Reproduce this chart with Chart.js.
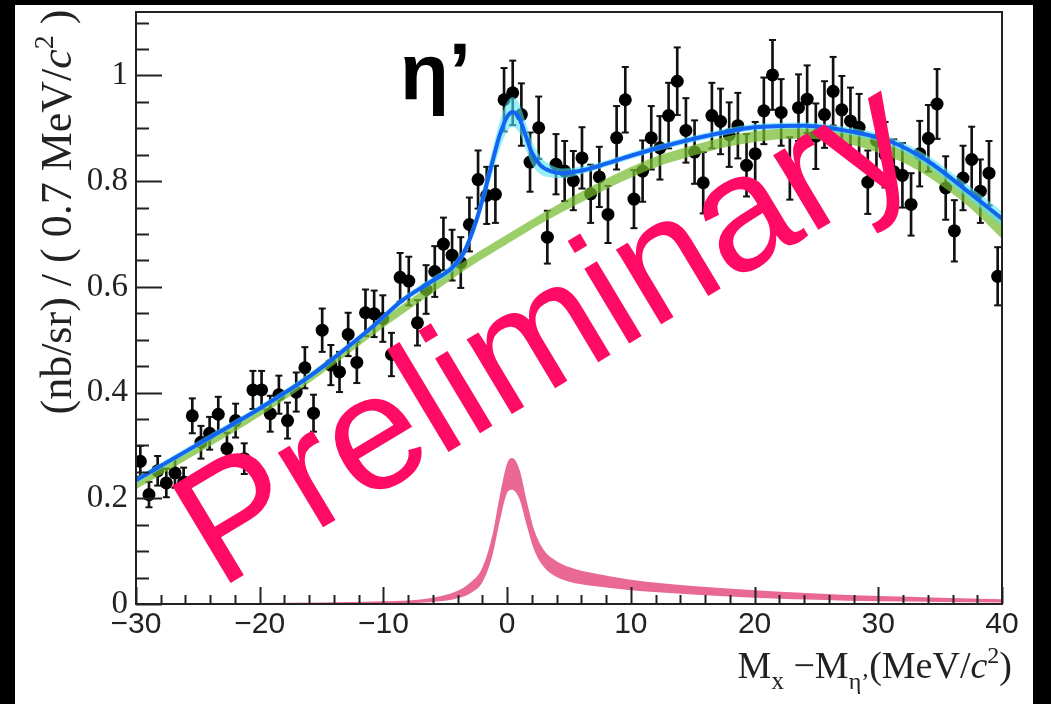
<!DOCTYPE html>
<html>
<head>
<meta charset="utf-8">
<script src="https://cdn.jsdelivr.net/npm/chart.js@4.4.1/dist/chart.umd.min.js"></script>
<style>
  html, body { margin: 0; padding: 0; background: #000; }
  #wrap { width: 1051px; height: 704px; }
</style>
</head>
<body>
<div id="wrap"><canvas id="grafico" width="1051" height="704"></canvas></div>
<script>
// bins de 0.7 MeV entre -30 y 40
const binStart = -30;
const binWidth = 0.7;

// datos (nb/sr por bin) y sus errores
const yields = [
  0.270, 0.207, 0.252, 0.229, 0.248, 0.231, 0.356, 0.306, 0.323, 0.359,
  0.294, 0.347, 0.275, 0.405, 0.405, 0.360, 0.396, 0.347, 0.401, 0.447,
  0.361, 0.518, 0.452, 0.439, 0.510, 0.457, 0.551, 0.549, 0.540, 0.472,
  0.618, 0.611, 0.532, 0.595, 0.629, 0.681, 0.660, 0.646, 0.718, 0.803,
  0.773, 0.775, 0.954, 0.967, 0.926, 0.836, 0.901, 0.694, 0.832, 0.819,
  0.801, 0.844, 0.776, 0.808, 0.737, 0.882, 0.954, 0.766, 0.819, 0.882,
  0.863, 0.924, 0.989, 0.896, 0.855, 0.797, 0.924, 0.913, 0.888, 0.905,
  0.830, 0.852, 0.933, 1.001, 0.930, 0.824, 0.939, 0.955, 0.885, 0.926,
  0.970, 0.935, 0.914, 0.902, 0.798, 0.877, 0.850, 0.818, 0.811, 0.756,
  0.852, 0.881, 0.946, 0.787, 0.706, 0.806, 0.841, 0.781, 0.815, 0.620
];
const errs = [
  0.029, 0.024, 0.028, 0.027, 0.028, 0.027, 0.033, 0.031, 0.031, 0.033,
  0.030, 0.032, 0.029, 0.036, 0.036, 0.034, 0.036, 0.034, 0.037, 0.039,
  0.035, 0.041, 0.038, 0.038, 0.041, 0.039, 0.044, 0.044, 0.044, 0.041,
  0.046, 0.046, 0.043, 0.046, 0.048, 0.050, 0.048, 0.048, 0.051, 0.055,
  0.054, 0.054, 0.060, 0.061, 0.059, 0.056, 0.059, 0.050, 0.057, 0.057,
  0.056, 0.058, 0.055, 0.057, 0.054, 0.060, 0.062, 0.055, 0.058, 0.060,
  0.060, 0.062, 0.064, 0.061, 0.060, 0.058, 0.062, 0.062, 0.061, 0.062,
  0.059, 0.060, 0.063, 0.066, 0.063, 0.059, 0.063, 0.064, 0.062, 0.063,
  0.065, 0.064, 0.063, 0.063, 0.060, 0.063, 0.062, 0.061, 0.061, 0.059,
  0.062, 0.063, 0.066, 0.060, 0.058, 0.061, 0.062, 0.060, 0.061, 0.055
];

// ajuste total (linea azul) y su banda
const totalX = [-30, -25, -20, -16, -13, -11, -8.5, -6, -4.5, -3.5, -2.5, -1.8, -1.2, -0.6, 0, 0.45, 1, 1.5, 2, 2.7, 3.5, 4.5, 6, 8, 10, 13, 16, 20, 24, 28, 31, 34, 37, 40];
const totalY = [0.234, 0.302, 0.370, 0.430, 0.484, 0.522, 0.574, 0.612, 0.635, 0.665, 0.725, 0.782, 0.836, 0.887, 0.922, 0.931, 0.918, 0.886, 0.854, 0.830, 0.819, 0.815, 0.820, 0.833, 0.848, 0.868, 0.885, 0.902, 0.905, 0.893, 0.875, 0.838, 0.785, 0.729];
const totalBand = [0.006, 0.006, 0.006, 0.006, 0.006, 0.006, 0.006, 0.007, 0.008, 0.010, 0.014, 0.018, 0.022, 0.026, 0.028, 0.028, 0.027, 0.025, 0.022, 0.017, 0.012, 0.009, 0.007, 0.006, 0.006, 0.006, 0.006, 0.006, 0.006, 0.007, 0.008, 0.010, 0.012, 0.014];

// fondo (banda verde)
const bkgX = [-30, -25, -20, -15, -10, -6, -3, 0, 3, 6, 9, 12, 15, 18, 21, 24, 27, 30, 33, 36, 38, 40];
const bkgY = [0.226, 0.294, 0.364, 0.444, 0.532, 0.598, 0.647, 0.690, 0.732, 0.770, 0.806, 0.836, 0.858, 0.876, 0.887, 0.890, 0.884, 0.866, 0.836, 0.790, 0.752, 0.708];
const bkgBand = [0.009, 0.009, 0.009, 0.009, 0.009, 0.009, 0.009, 0.009, 0.009, 0.010, 0.010, 0.010, 0.010, 0.010, 0.010, 0.010, 0.011, 0.012, 0.013, 0.014, 0.015, 0.017];

// senal (banda rosa)
const sigX = [-30, -20, -10, -6, -4, -3, -2, -1.2, -0.6, 0, 0.4, 1, 1.6, 2.2, 3, 4, 5, 7, 10, 15, 20, 25, 30, 35, 40];
const sigY = [0.0005, 0.001, 0.003, 0.008, 0.018, 0.030, 0.055, 0.110, 0.180, 0.238, 0.246, 0.226, 0.170, 0.120, 0.085, 0.066, 0.056, 0.046, 0.036, 0.026, 0.019, 0.014, 0.010, 0.008, 0.006];
const sigBand = [0.0005, 0.001, 0.002, 0.004, 0.007, 0.010, 0.014, 0.019, 0.024, 0.028, 0.030, 0.028, 0.023, 0.019, 0.016, 0.015, 0.014, 0.012, 0.010, 0.008, 0.007, 0.006, 0.005, 0.004, 0.003];

const xTicks = [-30, -20, -10, 0, 10, 20, 30, 40];
const yTicks = [0, 0.2, 0.4, 0.6, 0.8, 1];

const centers = yields.map((v, i) => binStart + binWidth * (i + 0.5));
const pts = (xs, ys) => xs.map((x, i) => ({ x: x, y: ys[i] }));
const shift = (ys, band, s) => ys.map((y, i) => y + s * band[i]);

const curva = {
  type: 'line', pointRadius: 0, borderWidth: 0, borderColor: 'rgba(0,0,0,0)',
  cubicInterpolationMode: 'monotone'
};

// fondo negro y panel blanco
const panel = {
  id: 'panel',
  beforeDraw(chart) {
    const c = chart.ctx;
    c.save();
    c.fillStyle = '#000';
    c.fillRect(0, 0, chart.width, chart.height);
    c.fillStyle = '#fff';
    c.fillRect(15, 5, 1018, 699);
    c.restore();
  }
};

// marco y ticks hacia adentro, estilo ROOT
const marco = {
  id: 'marco',
  afterDatasetsDraw(chart) {
    const c = chart.ctx, a = chart.chartArea;
    const sx = chart.scales.x, sy = chart.scales.y;
    c.save();
    c.strokeStyle = '#222';
    c.lineWidth = 2;
    c.strokeRect(a.left, a.top, a.right - a.left, a.bottom - a.top);
    c.beginPath();
    for (let v = 0; v <= 1.1001; v += 0.05) {
      const py = Math.round(sy.getPixelForValue(v)) + 0.5;
      const mayor = Math.abs(v / 0.2 - Math.round(v / 0.2)) < 1e-6;
      c.moveTo(a.left, py);
      c.lineTo(a.left + (mayor ? 26 : 13), py);
    }
    for (let v = -30; v <= 40; v += 2) {
      const px = Math.round(sx.getPixelForValue(v)) + 0.5;
      const mayor = v % 10 === 0;
      c.moveTo(px, a.bottom);
      c.lineTo(px, a.bottom - (mayor ? 17 : 9));
    }
    c.stroke();
    c.restore();
  }
};

// textos: titulos de ejes, eta' y marca de agua
function tramos(c, partes) {
  let w = 0;
  partes.forEach(p => { c.font = p.f; w += c.measureText(p.t).width; });
  return w;
}
function dibujaTramos(c, partes, x, y) {
  partes.forEach(p => {
    c.font = p.f;
    c.fillText(p.t, x, y + (p.dy || 0));
    x += c.measureText(p.t).width;
  });
}

const textos = {
  id: 'textos',
  afterDraw(chart) {
    const c = chart.ctx;
    const serif = '"Liberation Serif", "DejaVu Serif", serif';
    c.save();
    c.fillStyle = '#222';
    c.textBaseline = 'alphabetic';

    // titulo eje y
    const ty = [
      { t: '(nb/sr) / ( 0.7 MeV/', f: '44px ' + serif },
      { t: 'c', f: 'italic 44px ' + serif },
      { t: '2', f: '28px ' + serif, dy: -18 },
      { t: ' )', f: '44px ' + serif }
    ];
    const wy = tramos(c, ty);
    c.save();
    c.translate(71, 212);
    c.rotate(-Math.PI / 2);
    dibujaTramos(c, ty, -wy / 2, 0);
    c.restore();

    // titulo eje x
    const tx = [
      { t: 'M', f: '38px ' + serif },
      { t: 'x', f: '25px ' + serif, dy: 11 },
      { t: ' \u2212', f: '38px ' + serif },
      { t: 'M', f: '38px ' + serif },
      { t: '\u03B7\u2019', f: '24px ' + serif, dy: 11 },
      { t: '(MeV/', f: '38px ' + serif },
      { t: 'c', f: 'italic 38px ' + serif },
      { t: '2', f: '24px ' + serif, dy: -15 },
      { t: ')', f: '38px ' + serif }
    ];
    const wx = tramos(c, tx);
    dibujaTramos(c, tx, 1012 - wx, 678);

    // eta prima
    c.fillStyle = '#000';
    c.font = 'bold 80px "Liberation Sans", Arial, sans-serif';
    c.fillText('\u03B7\u2019', 400, 99);

    // Preliminary
    c.save();
    c.translate(219, 590);
    c.rotate(-31 * Math.PI / 180);
    c.fillStyle = '#ff0a64';
    c.font = '165px "Liberation Sans", Arial, sans-serif';
    c.fillText('Preliminary', 0, 0);
    c.restore();

    c.restore();
  }
};

const ctx = document.getElementById('grafico');
new Chart(ctx, {
  type: 'scatter',
  data: {
    datasets: [
      // 0,1: banda de senal
      Object.assign({}, curva, { data: pts(sigX, shift(sigY, sigBand, 1)), fill: { target: 1 }, backgroundColor: 'rgba(232,96,142,0.95)', order: 9 }),
      Object.assign({}, curva, { data: pts(sigX, shift(sigY, sigBand, -1)), fill: false, order: 9 }),
      // 2: barras de error
      {
        type: 'bar', data: centers.map((x, i) => ({ x: x, y: [yields[i] - errs[i], yields[i] + errs[i]] })),
        backgroundColor: '#111', barThickness: 2, grouped: false, order: 7
      },
      // 3: topes de las barras
      {
        type: 'scatter',
        data: centers.map((x, i) => ({ x: x, y: yields[i] + errs[i] })).concat(centers.map((x, i) => ({ x: x, y: yields[i] - errs[i] }))),
        pointStyle: 'line', pointRadius: 3.5, borderWidth: 2, borderColor: '#111', order: 7
      },
      // 4: puntos
      {
        type: 'scatter', data: pts(centers, yields),
        pointRadius: 6.5, pointBackgroundColor: '#000', pointBorderWidth: 0, order: 6
      },
      // 5,6: banda de fondo
      Object.assign({}, curva, { data: pts(bkgX, shift(bkgY, bkgBand, 1)), fill: { target: 6 }, backgroundColor: 'rgba(118,188,48,0.72)', order: 4 }),
      Object.assign({}, curva, { data: pts(bkgX, shift(bkgY, bkgBand, -1)), fill: false, order: 4 }),
      // 7,8: banda del ajuste total
      Object.assign({}, curva, { data: pts(totalX, shift(totalY, totalBand, 1)), fill: { target: 8 }, backgroundColor: 'rgba(80,228,245,0.6)', order: 3 }),
      Object.assign({}, curva, { data: pts(totalX, shift(totalY, totalBand, -1)), fill: false, order: 3 }),
      // 9: ajuste total
      Object.assign({}, curva, { data: pts(totalX, totalY), borderWidth: 4, borderColor: '#1464f4', fill: false, order: 1 })
    ]
  },
  options: {
    responsive: false,
    animation: false,
    events: [],
    layout: { padding: { left: 0, top: 12, right: 49, bottom: 0 } },
    plugins: { legend: { display: false }, tooltip: { enabled: false } },
    scales: {
      x: {
        type: 'linear', min: -30, max: 40, offset: false,
        grid: { display: false, drawTicks: false }, border: { display: false },
        afterBuildTicks: s => { s.ticks = xTicks.map(v => ({ value: v })); },
        afterFit: s => { s.height = 100; s.paddingLeft = 0; s.paddingRight = 0; },
        ticks: {
          padding: 3, color: '#222', maxRotation: 0, autoSkip: false,
          font: { family: '"Liberation Sans", Arial, sans-serif', size: 30 },
          callback: v => (v < 0 ? '\u2212' + Math.abs(v) : String(v))
        }
      },
      y: {
        type: 'linear', min: 0, max: 1.12,
        grid: { display: false, drawTicks: false }, border: { display: false },
        afterBuildTicks: s => { s.ticks = yTicks.map(v => ({ value: v })); },
        afterFit: s => { s.width = 136; s.paddingTop = 0; s.paddingBottom = 0; },
        ticks: {
          padding: 8, color: '#222', autoSkip: false,
          font: { family: '"Liberation Serif", "DejaVu Serif", serif', size: 33 },
          callback: v => String(v)
        }
      }
    }
  },
  plugins: [panel, marco, textos]
});
</script>
</body>
</html>
